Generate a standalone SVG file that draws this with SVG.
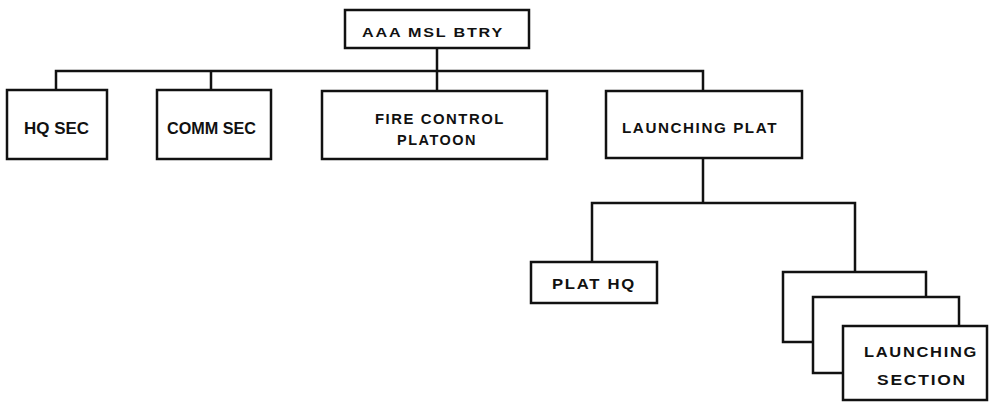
<svg xmlns="http://www.w3.org/2000/svg" width="992" height="402" viewBox="0 0 992 402">
<style>
.box{fill:#fff;stroke:#111;stroke-width:2.5}
.ln{fill:none;stroke:#111;stroke-width:2.5}
.t{font-family:"Liberation Sans",Arial,sans-serif;font-weight:bold;font-size:14.5px;fill:#111;letter-spacing:1.5px}
.s{font-size:13.5px}
.b{font-size:17px;letter-spacing:0}
</style>
<rect width="992" height="402" fill="#fff"/>
<g id="connectors" class="ln">
<path d="M437 48V71M56 90V71H703V91M211 71V90M437 71V91"/>
<path d="M703 158V203M592 262V203H855V272"/>
</g>
<g id="n-btry"><rect class="box" x="345" y="10" width="184" height="38"/><text class="t s" x="362" y="37" textLength="142" lengthAdjust="spacingAndGlyphs">AAA MSL BTRY</text></g>
<g id="n-hqsec"><rect class="box" x="7" y="90" width="100" height="69"/><text class="t b" x="24" y="134" textLength="65" lengthAdjust="spacingAndGlyphs">HQ SEC</text></g>
<g id="n-commsec"><rect class="box" x="157" y="90" width="114" height="69"/><text class="t b" x="167" y="134" textLength="89" lengthAdjust="spacingAndGlyphs">COMM SEC</text></g>
<g id="n-fire"><rect class="box" x="322" y="91" width="225" height="68"/><text class="t" x="375" y="124" textLength="130" lengthAdjust="spacingAndGlyphs">FIRE CONTROL</text><text class="t" x="397" y="145" textLength="80" lengthAdjust="spacingAndGlyphs">PLATOON</text></g>
<g id="n-lplat"><rect class="box" x="606" y="91" width="196" height="67"/><text class="t" x="622" y="133" textLength="156" lengthAdjust="spacingAndGlyphs">LAUNCHING PLAT</text></g>
<g id="n-plathq"><rect class="box" x="531" y="262" width="126" height="41"/><text class="t" x="552" y="289" textLength="84" lengthAdjust="spacingAndGlyphs">PLAT HQ</text></g>
<g id="n-lsection">
<rect class="box" x="783" y="272" width="143" height="70"/>
<rect class="box" x="813" y="297" width="146" height="76"/>
<rect class="box" x="843" y="326" width="144" height="74"/>
<text class="t" x="864" y="357" textLength="114" lengthAdjust="spacingAndGlyphs">LAUNCHING</text>
<text class="t" x="877" y="385" textLength="90" lengthAdjust="spacingAndGlyphs">SECTION</text>
</g>
</svg>
